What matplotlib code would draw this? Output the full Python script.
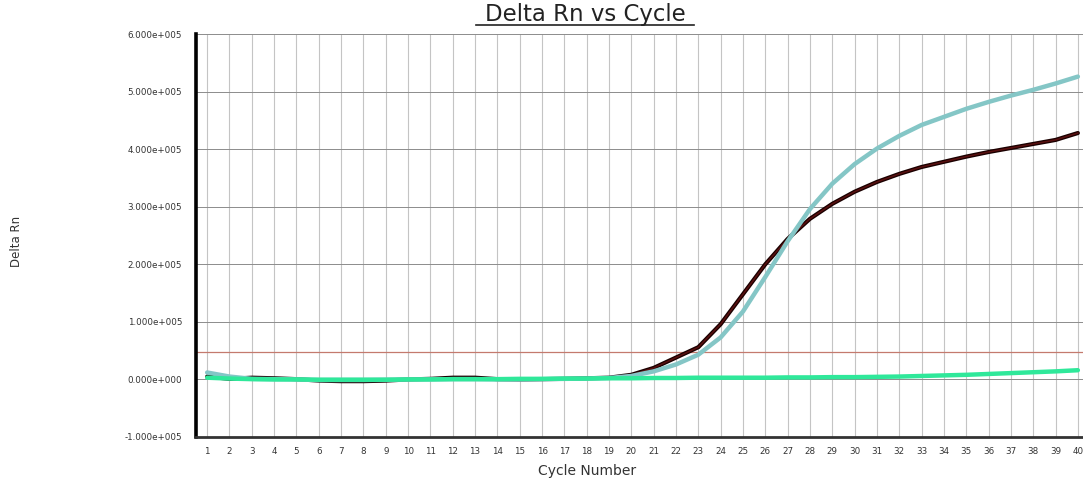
import numpy as np
import matplotlib.pyplot as plt
from matplotlib.lines import Line2D
from matplotlib.ticker import FuncFormatter

plt.rcParams['font.family'] = ['DejaVu Sans']

# cycle numbers
cycles = list(range(1, 41))

# delta Rn readings
sample_dark = [5000, 1000, 3000, 2000, 500, -2000, -3000, -3000, -2000, 0,
               1000, 3000, 3000, 500, 0, 500, 1000, 2000, 3000, 8000,
               20000, 38000, 56000, 96000, 148000, 200000, 244000, 279000, 305000, 326000,
               343000, 357000, 369000, 378000, 387000, 395000, 402000, 409000, 416000, 428000]
sample_teal = [12000, 5000, 1000, 500, 0, -1000, -1000, -1000, -500, 0,
               0, 500, 500, 0, 0, 500, 1000, 1500, 2500, 6000,
               14000, 26000, 43000, 73000, 118000, 178000, 240000, 296000, 340000, 374000,
               401000, 423000, 442000, 456000, 470000, 482000, 493000, 503000, 514000, 526000]
sample_green = [3000, 1500, 500, 0, 0, -500, -500, -500, -500, 0,
                0, 500, 500, 500, 1000, 1000, 1500, 1500, 2000, 2000,
                2500, 2500, 3000, 3000, 3000, 3000, 3500, 3500, 4000, 4000,
                4500, 5000, 6000, 7000, 8000, 9500, 11000, 12500, 14000, 16000]
threshold = 47000

y_ticks = [-100000, 0, 100000, 200000, 300000, 400000, 500000, 600000]


def sci_fmt(v, pos):
    if v == 0:
        return '0.000e+000'
    sign = '-' if v < 0 else ''
    exp = int(np.floor(np.log10(abs(v))))
    mant = abs(v) / 10 ** exp
    return f'{sign}{mant:.3f}e+{exp:03d}'


fig = plt.figure(figsize=(10.83, 4.8), dpi=100)
ax = fig.add_axes([196 / 1083, 1 - 437 / 480, 1 - 196 / 1083, (437 - 34) / 480])

# grid
for c in cycles:
    ax.axvline(c, color='#c4c4c4', lw=0.8, zorder=0)
for v in y_ticks[1:]:
    ax.axhline(v, color='#8c8c8c', lw=0.7, zorder=0)

ax.axhline(threshold, color='#c47a6e', lw=0.9, zorder=1)

ax.plot(cycles, sample_dark, color='#1a0000', lw=3.0, zorder=3, solid_capstyle='round')
ax.plot(cycles, sample_dark, color='#5a1010', lw=1.1, zorder=3)
ax.plot(cycles, sample_teal, color='#84c6c6', lw=3.2, zorder=4, solid_capstyle='round')
ax.plot(cycles, sample_green, color='#2fe89a', lw=3.2, zorder=5, solid_capstyle='round')

ax.set_xlim(0.5, 40.23)
ax.set_ylim(-100000, 600000)
ax.set_xticks(cycles)
ax.set_yticks(y_ticks)
ax.yaxis.set_major_formatter(FuncFormatter(sci_fmt))
ax.tick_params(axis='both', length=0, labelsize=6.3, colors='#333333')
ax.tick_params(axis='y', pad=10)
ax.tick_params(axis='x', pad=7)

for s in ['top', 'right']:
    ax.spines[s].set_visible(False)
ax.spines['left'].set_linewidth(2.6)
ax.spines['left'].set_color('black')
ax.spines['bottom'].set_linewidth(2)
ax.spines['bottom'].set_color('#333333')

fig.text(587 / 1083, 1 - 471 / 480, 'Cycle Number', ha='center', va='center',
         fontsize=10, color='#333333')
fig.text(16 / 1083, 1 - 241 / 480, 'Delta Rn', rotation=90, ha='center', va='center',
         fontsize=8.5, color='#333333')

fig.text(585 / 1083, 1 - 15 / 480, 'Delta Rn vs Cycle', ha='center', va='center',
         fontsize=16.5, color='#222222')
fig.add_artist(Line2D([476 / 1083, 694 / 1083], [1 - 25 / 480, 1 - 25 / 480],
                     color='#222222', lw=1.2, transform=fig.transFigure))

fig.savefig('out.png', dpi=100)
